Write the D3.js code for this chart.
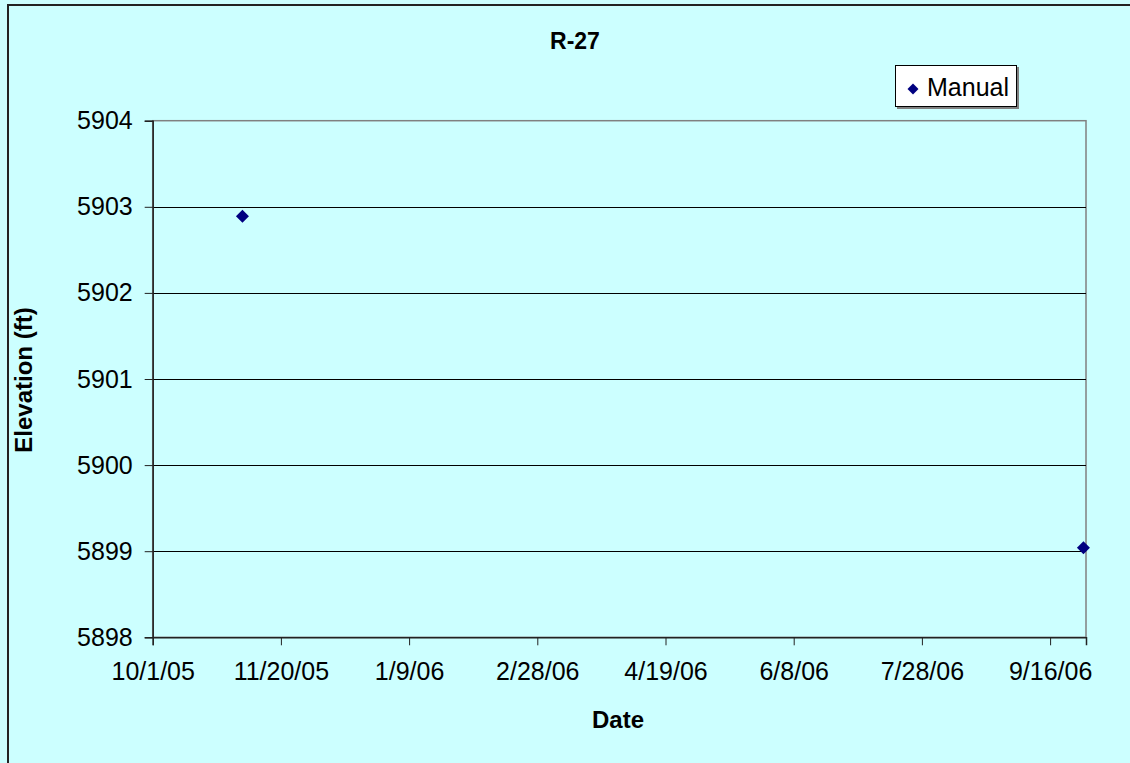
<!DOCTYPE html>
<html>
<head>
<meta charset="utf-8">
<script src="https://cdn.jsdelivr.net/npm/d3@7"></script>
<style>
  html, body { margin: 0; padding: 0; background: #ccffff; }
  svg { display: block; }
  text { font-family: "Liberation Sans", Arial, sans-serif; }
</style>
</head>
<body>
<svg id="chart" width="1130" height="763"></svg>
<script>
const title = "R-27";
const seriesName = "Manual";
const dates = ["2005-11-05", "2006-09-29"];
const elevations = [5902.89, 5899.04];
const xDomain = ["2005-10-01", "2006-09-30"];
const yDomain = [5898, 5904];
const yTicks = [5898, 5899, 5900, 5901, 5902, 5903, 5904];
const xTickDays = [0, 50, 100, 150, 200, 250, 300, 350];
const xLabel = "Date";
const yLabel = "Elevation (ft)";

const parse = d3.utcParse("%Y-%m-%d");
const svg = d3.select("#chart");
const W = 1130, H = 763;
const L = 152.7, R = 1086, T = 120.7, B = 637.3;

svg.append("rect").attr("x", 0).attr("y", 0).attr("width", W).attr("height", H).attr("fill", "#ccffff");
svg.append("rect").attr("x", 8).attr("y", 5).attr("width", W + 10).attr("height", H + 10)
  .attr("fill", "none").attr("stroke", "#222").attr("stroke-width", 2);

const x = d3.scaleUtc().domain(xDomain.map(parse)).range([L, R]);
const y = d3.scaleLinear().domain(yDomain).range([B, T]);

const fmt = d => (d.getUTCMonth() + 1) + "/" + d.getUTCDate() + "/" + String(d.getUTCFullYear()).slice(2);
const x0 = parse(xDomain[0]);
const xTickVals = xTickDays.map(n => d3.utcDay.offset(x0, n));

// plot background
svg.append("rect").attr("x", L).attr("y", T).attr("width", R - L).attr("height", B - T)
  .attr("fill", "#ccffff").attr("stroke", "#808080").attr("stroke-width", 1.5);

// gridlines
svg.append("g").selectAll("line").data(yTicks.filter(v => v !== yDomain[0] && v !== yDomain[1]))
  .join("line")
  .attr("x1", L).attr("x2", R)
  .attr("y1", d => Math.round(y(d)) + 0.5).attr("y2", d => Math.round(y(d)) + 0.5)
  .attr("stroke", "#000").attr("stroke-width", 1);

// y axis
const yAxis = svg.append("g").attr("transform", `translate(${L},0)`)
  .call(d3.axisLeft(y).tickValues(yTicks).tickSize(8).tickPadding(12).tickFormat(d3.format("d")));
yAxis.select(".domain").attr("stroke", "#222").attr("stroke-width", 1.5);
yAxis.selectAll(".tick line").attr("stroke", "#222");
yAxis.selectAll("text").attr("font-size", 25).attr("fill", "#000")
  .attr("font-family", "'Liberation Sans', Arial, sans-serif");

// x axis
const xAxis = svg.append("g").attr("transform", `translate(0,${B})`)
  .call(d3.axisBottom(x).tickValues(xTickVals).tickSize(8).tickPadding(17).tickFormat(fmt));
xAxis.select(".domain").attr("stroke", "#222").attr("stroke-width", 1.5);
xAxis.selectAll(".tick line").attr("stroke", "#222");
xAxis.selectAll("text").attr("font-size", 25).attr("fill", "#000")
  .attr("font-family", "'Liberation Sans', Arial, sans-serif");

// points
svg.append("g").selectAll("path").data(dates.map((d, i) => ({ d: parse(d), v: elevations[i] })))
  .join("path")
  .attr("d", d3.symbol().type(d3.symbolSquare).size(85))
  .attr("transform", p => `translate(${x(p.d)},${y(p.v)}) rotate(45)`)
  .attr("fill", "#000080");

// title & labels
svg.append("text").attr("x", 575).attr("y", 49).attr("text-anchor", "middle")
  .attr("font-size", 23).attr("font-weight", "bold").text(title);
svg.append("text").attr("x", 618).attr("y", 728).attr("text-anchor", "middle")
  .attr("font-size", 24).attr("font-weight", "bold").text(xLabel);
svg.append("text").attr("transform", `translate(32,380) rotate(-90)`).attr("text-anchor", "middle")
  .attr("font-size", 24).attr("font-weight", "bold").text(yLabel);

// legend
const lg = svg.append("g");
lg.append("rect").attr("x", 897).attr("y", 67).attr("width", 122).attr("height", 42).attr("fill", "#808080");
lg.append("rect").attr("x", 895.5).attr("y", 65.5).attr("width", 121).attr("height", 41)
  .attr("fill", "#fff").attr("stroke", "#000").attr("stroke-width", 1);
lg.append("path").attr("d", d3.symbol().type(d3.symbolSquare).size(60))
  .attr("transform", "translate(913,89) rotate(45)").attr("fill", "#000080");
lg.append("text").attr("x", 927).attr("y", 96).attr("font-size", 25).text(seriesName);
</script>
</body>
</html>
